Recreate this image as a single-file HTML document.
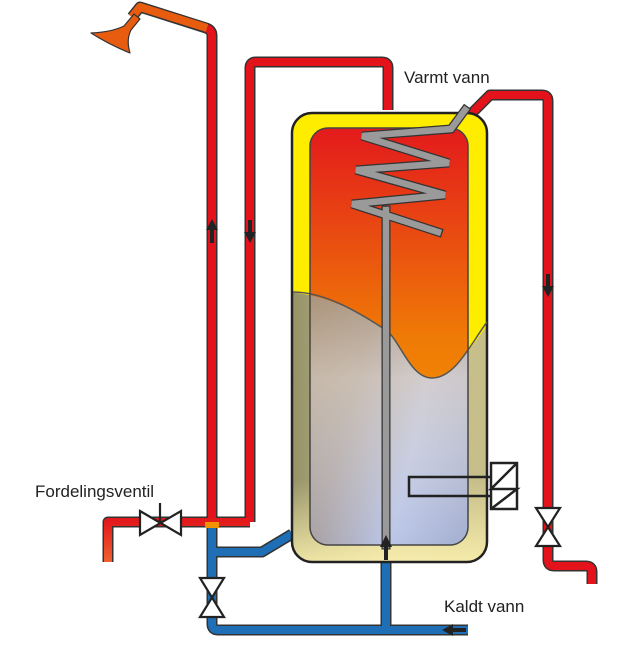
<!DOCTYPE html>
<html><head><style>body{margin:0;background:#fff}svg{display:block}text{font-family:"Liberation Sans",sans-serif;font-size:17px;fill:#222}</style></head><body>
<svg width="635" height="651" viewBox="0 0 635 651" xmlns="http://www.w3.org/2000/svg">
<defs>
<linearGradient id="hot" x1="0" y1="0" x2="0" y2="1"><stop offset="0" stop-color="#e31a1c"/><stop offset="0.5" stop-color="#ef7a06"/><stop offset="1" stop-color="#f6a400"/></linearGradient>
<linearGradient id="cold" x1="0" y1="0" x2="1" y2="0.3"><stop offset="0" stop-color="#8f7e6a"/><stop offset="0.4" stop-color="#a09aa0"/><stop offset="0.7" stop-color="#b3c0e6"/><stop offset="1" stop-color="#9aa6cc"/></linearGradient>
<linearGradient id="coldtop" x1="0" y1="0" x2="0" y2="1"><stop offset="0" stop-color="#b89a76" stop-opacity="0.6"/><stop offset="0.3" stop-color="#e6d6c0" stop-opacity="0.6"/><stop offset="1" stop-color="#ffffff" stop-opacity="0"/></linearGradient>
<linearGradient id="khaki" x1="0" y1="0" x2="1" y2="0"><stop offset="0" stop-color="#8f8c62"/><stop offset="0.5" stop-color="#cfc597"/><stop offset="1" stop-color="#c4bc86"/></linearGradient>
<linearGradient id="khb" x1="0" y1="0" x2="0" y2="1"><stop offset="0" stop-color="#fff6b0" stop-opacity="0"/><stop offset="1" stop-color="#fff4b0" stop-opacity="0.9"/></linearGradient>
<linearGradient id="orng" x1="0" y1="0" x2="0" y2="1"><stop offset="0" stop-color="#e31a1c"/><stop offset="1" stop-color="#f06030"/></linearGradient>
<clipPath id="outer"><rect x="292" y="113" width="195" height="449" rx="20"/></clipPath>
<clipPath id="inner"><rect x="310" y="128" width="158" height="417" rx="18"/></clipPath>
</defs>
<g fill="none" stroke-linejoin="round">
<g stroke="#333" stroke-width="11">
<path d="M212 522 V36 Q212 30 206 28 L140 7 L132 17"/>
<path d="M250 522 V68 Q250 62 256 62 H382 Q388 62 388 68 V110"/>
<path d="M108 562 V522 H250"/>
<path d="M212 525 V624 Q212 630 218 630 H468"/>
<path d="M212 552 H262 L292 534"/>
<path d="M386 630 V545"/>
<path d="M460 125 L490 95 H542 Q548 95 548 101 V560 Q548 566 554 566 H586 Q592 566 592 572 V584"/>
</g>
<g stroke-width="8">
<path d="M212 522 V36 Q212 30 206 28" stroke="#e3121b"/>
<path d="M207 28 L140 7 L132 17" stroke="#e85c10"/>
<path d="M250 522 V68 Q250 62 256 62 H382 Q388 62 388 68 V110" stroke="#e3121b"/>
<path d="M108 562 V522 H250" stroke="url(#orng)"/>
<path d="M212 528 V624 Q212 630 218 630 H468" stroke="#1f6fb7"/>
<path d="M212 552 H262 L292 534" stroke="#1f6fb7"/>
<path d="M386 630 V545" stroke="#1f6fb7"/>
<path d="M460 125 L490 95 H542 Q548 95 548 101 V560 Q548 566 554 566 H586 Q592 566 592 572 V584" stroke="#e3121b"/>
</g>
</g>
<path d="M134 14 L124 26 Q112 32 91 33 Q108 44 130 53 Q126 40 131 30 L140 19 Z" fill="#e85c10" stroke="#333" stroke-width="1.2" stroke-linejoin="round"/>
<rect x="292" y="113" width="195" height="449" rx="20" fill="#ffed00"/>
<g clip-path="url(#outer)">
<path d="M280 292 C330 292 370 320 386 330 C400 340 410 378 432 378 C455 378 470 345 500 310 V580 H280 Z" fill="url(#khaki)"/>
<rect x="280" y="480" width="220" height="90" fill="url(#khb)"/>
</g>
<rect x="292" y="113" width="195" height="449" rx="20" fill="none" stroke="#222" stroke-width="2.5"/>
<rect x="310" y="128" width="158" height="417" rx="18" fill="url(#hot)"/>
<g clip-path="url(#inner)">
<path d="M280 292 C330 292 370 320 386 330 C400 340 410 378 432 378 C455 378 470 345 500 310 V580 H280 Z" fill="url(#cold)"/>
<path d="M280 292 C330 292 370 320 386 330 C400 340 410 378 432 378 C455 378 470 345 500 310 V580 H280 Z" fill="url(#coldtop)"/>
</g>
<path d="M293 292 C330 292 370 320 386 330 C400 340 410 378 432 378 C455 378 470 345 487 322" fill="none" stroke="#555" stroke-width="1.5"/>
<rect x="310" y="128" width="158" height="417" rx="18" fill="none" stroke="#444" stroke-width="1.5"/>
<g fill="none" stroke-linejoin="miter" stroke-linecap="square">
<path d="M386 545 V210 M465 110 L451 129 L362 136 L449 163 L356 170 L445 195 L352 204 L438 232" stroke="#333" stroke-width="9"/>
<path d="M386 545 V210 M465 110 L451 129 L362 136 L449 163 L356 170 L445 195 L352 204 L438 232" stroke="#9a9a9a" stroke-width="6.5"/>
</g>
<rect x="383" y="209" width="6" height="8" fill="#9a9a9a"/>
<g fill="none" stroke="#222" stroke-width="2.5">
<path d="M492 477 H409 V496 H492"/>
<rect x="491" y="463" width="26" height="46"/>
<path d="M517 463 L491 489 H517 L491 509"/>
</g>
<g fill="#fff" stroke="#222" stroke-width="2.2">
<path d="M140 511 L181 535 V511 L140 535 Z"/>
<path d="M200 578 L224 578 L200 617 L224 617 Z"/>
<path d="M536 508 L560 508 L536 546 L560 546 Z"/>
</g>
<line x1="160" y1="523" x2="160" y2="503" stroke="#222" stroke-width="2.2"/>
<g fill="#222">
<path d="M212 219 L206 230 H210 V243 H214 V230 H218 Z"/>
<path d="M250 243 L244 232 H248 V220 H252 V232 H256 Z"/>
<path d="M548 297 L542 286 H546 V274 H550 V286 H554 Z"/>
<path d="M386 535 L380 547 H384 V560 H388 V547 H392 Z"/>
<path d="M442 630 L453 624 V628 H466 V632 H453 V636 Z"/>
</g>
<rect x="205" y="522" width="14" height="6" fill="#f39200"/>
<text x="404" y="83">Varmt vann</text>
<text x="35" y="497">Fordelingsventil</text>
<text x="444" y="612">Kaldt vann</text>
</svg>
</body></html>
